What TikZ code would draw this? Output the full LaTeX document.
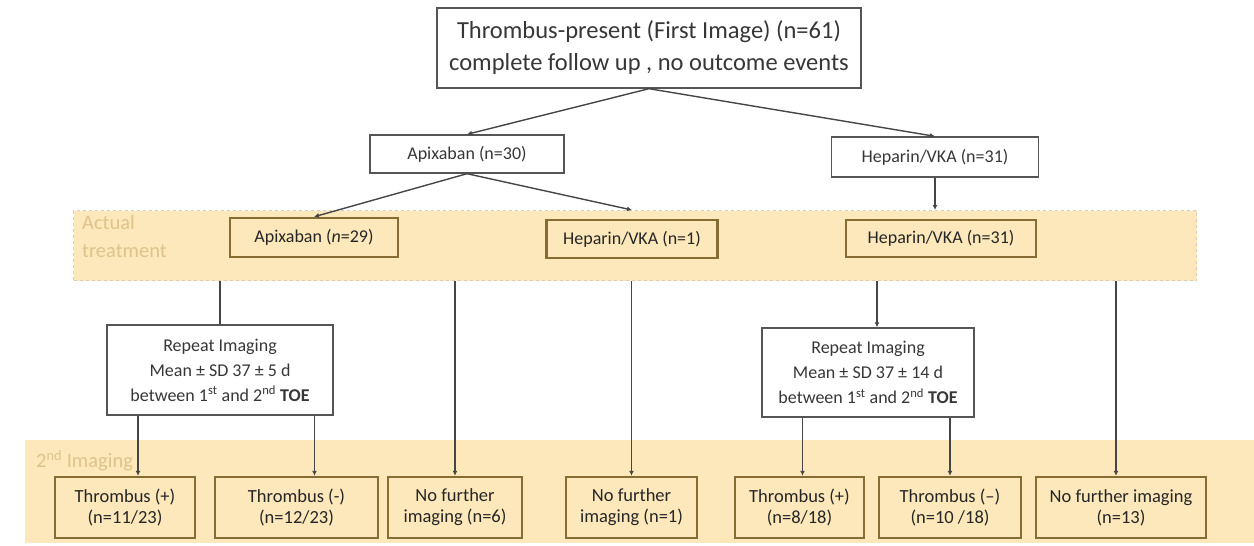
\documentclass[tikz,border=0pt]{standalone}
\usepackage{fontspec}
\setmainfont{Carlito}
\usetikzlibrary{arrows.meta}
\definecolor{bandtan}{RGB}{252,232,186}
\definecolor{bandedge}{RGB}{215,205,185}
\definecolor{boxbrown}{RGB}{135,108,52}
\definecolor{boxgray}{RGB}{85,85,85}
\definecolor{linegray}{RGB}{70,70,70}
\definecolor{labeltan}{RGB}{222,196,140}
\definecolor{textgray}{RGB}{55,55,55}
\begin{document}
\begin{tikzpicture}[x=1pt, y=-1pt,
		wire/.style={draw=linegray, line width=1.4pt},
		link/.style={wire, -{Latex[length=5pt, width=5pt]}},
		whitebox/.style={draw=boxgray, fill=white, line width=1.4pt, inner sep=0pt,
			align=center, text=textgray},
		treatbox/.style={draw=boxbrown, fill=bandtan, line width=2.4pt, inner sep=0pt,
			align=center, text=black!85},
		bandlabel/.style={text=labeltan, align=left, anchor=north west, inner sep=0pt,
			font=\fontsize{20.5}{28}\selectfont}]
	\useasboundingbox (0,0) rectangle (1254,546);
	\newcommand{\resultBox}[4]{
		% draws one box of the 2nd imaging row
		% args:
		%     name
		%     centre x
		%     width
		%     text
		\node[treatbox, minimum width=#3pt, minimum height=61pt,
			font=\fontsize{18.5}{21}\selectfont] (#1) at (#2, 507.5) {#4};
	}
	%
	% background bands
	\node[fill=bandtan, draw=bandedge, dashed, line width=1pt, inner sep=0pt,
		minimum width=1123pt, minimum height=70pt, anchor=north west] (treatBand) at (73,210) {};
	\node[fill=bandtan, inner sep=0pt,
		minimum width=1229pt, minimum height=103pt, anchor=north west] (imgBand) at (25,440) {};
	\node[bandlabel] (treatLbl) at (82,215) {Actual\\treatment};
	\node[bandlabel] (imgLbl) at (36,450) {2\textsuperscript{nd} Imaging};
	%
	% randomised arms
	\node[whitebox, minimum width=424pt, minimum height=80pt,
		font=\fontsize{24.5}{32}\selectfont] (first) at (649,48)
		{Thrombus-present (First Image) (n=61)\\complete follow up , no outcome events};
	\node[whitebox, minimum width=194pt, minimum height=38pt,
		font=\fontsize{18}{20}\selectfont] (apixA) at (467,154) {Apixaban (n=30)};
	\node[whitebox, minimum width=207pt, minimum height=40pt,
		font=\fontsize{18}{20}\selectfont] (hepA) at (935,157) {Heparin/VKA (n=31)};
	%
	% actual treatment
	\node[treatbox, minimum width=168pt, minimum height=39pt,
		font=\fontsize{18}{20}\selectfont] (apixB) at (314,237.5) {Apixaban (\textit{n}=29)};
	\node[treatbox, minimum width=171pt, minimum height=38pt,
		font=\fontsize{18}{20}\selectfont] (hepB) at (632,239) {Heparin/VKA (n=1)};
	\node[treatbox, minimum width=190pt, minimum height=37pt,
		font=\fontsize{18}{20}\selectfont] (hepC) at (941,238.5) {Heparin/VKA (n=31)};
	%
	% repeat imaging
	\node[whitebox, minimum width=226pt, minimum height=90pt,
		font=\fontsize{18}{25}\selectfont] (repA) at (220,370)
		{Repeat Imaging\\Mean ± SD 37 ± 5 d\\between 1\textsuperscript{st} and 2\textsuperscript{nd} \textbf{TOE}};
	\node[whitebox, minimum width=212pt, minimum height=89pt,
		font=\fontsize{18}{25}\selectfont] (repB) at (868,372.5)
		{Repeat Imaging\\Mean ± SD 37 ± 14 d\\between 1\textsuperscript{st} and 2\textsuperscript{nd} \textbf{TOE}};
	%
	% 2nd imaging results
	\resultBox{posA}{125}{140}{Thrombus (+)\\(n=11/23)}
	\resultBox{negA}{296.5}{163}{Thrombus (-)\\(n=12/23)}
	\resultBox{noImgA}{455}{134}{No further\\imaging (n=6)}
	\resultBox{noImgB}{631.5}{131}{No further\\imaging (n=1)}
	\resultBox{posB}{799.5}{129}{Thrombus (+)\\(n=8/18)}
	\resultBox{negB}{950}{142}{Thrombus (--)\\(n=10 /18)}
	\resultBox{noImgC}{1121}{170}{No further imaging\\(n=13)}
	%
	% connectors
	\draw[link] (first.south) -- (apixA.north);
	\draw[link] (first.south) -- (hepA.north);
	\draw[link] (apixA.south) -- (apixB.north);
	\draw[link] (apixA.south) -- (hepB.north |- treatBand.north);
	\draw[link] (hepA.south) -- (hepA.south |- treatBand.north);
	\draw[wire] (repA.north |- treatBand.south) -- (repA.north);
	\draw[link] (noImgA.north |- treatBand.south) -- (noImgA.north);
	\draw[link] (noImgB.north |- treatBand.south) -- (noImgB.north);
	\draw[link] ([xshift=9pt]repB.north |- treatBand.south) -- ([xshift=9pt]repB.north);
	\draw[link] ([xshift=-5pt]noImgC.north |- treatBand.south) -- ([xshift=-5pt]noImgC.north);
	\draw[link] ([xshift=13pt]posA.north |- repA.south) -- ([xshift=13pt]posA.north);
	\draw[link] ([xshift=18pt]negA.north |- repA.south) -- ([xshift=18pt]negA.north);
	\draw[link] ([xshift=3pt]posB.north |- repB.south) -- ([xshift=3pt]posB.north);
	\draw[link] (negB.north |- repB.south) -- (negB.north);
\end{tikzpicture}
\end{document}
